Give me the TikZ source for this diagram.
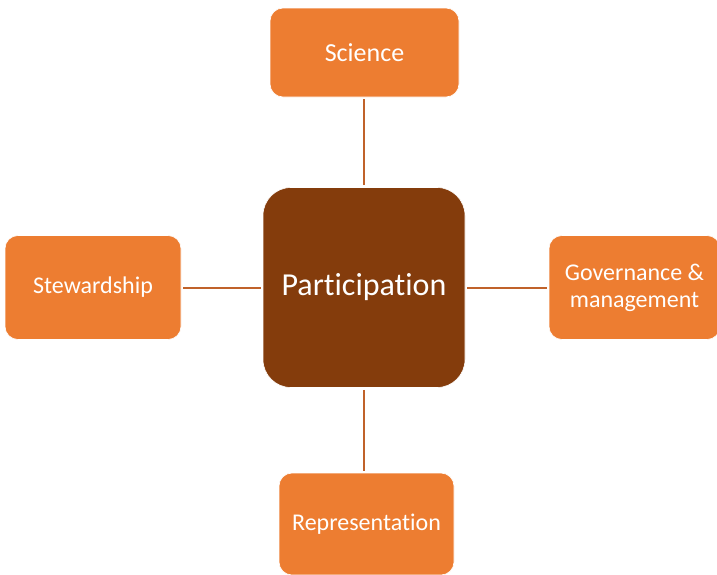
\documentclass[tikz,border=0pt]{standalone}
\usepackage{fontspec}
\setmainfont[Ligatures=NoCommon]{Carlito}
\definecolor{orangebox}{HTML}{ED7D31}
\definecolor{brownbox}{HTML}{843C0C}
\definecolor{linkcol}{HTML}{C0622A}
\begin{document}
\begin{tikzpicture}[x=1pt,y=-1pt,
  leaf/.style={draw=white,line width=0.6pt,fill=orangebox,rounded corners=13pt,inner sep=0pt,
    text=white,align=center,font=\fontsize{24}{27}\selectfont},
  hub/.style={draw=white,line width=0.6pt,fill=brownbox,rounded corners=28pt,inner sep=0pt,
    text=white,align=center,font=\fontsize{32}{38}\selectfont,minimum width=202pt,minimum height=200pt},
  link/.style={draw=linkcol,line width=2pt,shorten <=2pt,shorten >=2pt}]
\useasboundingbox (0,0) rectangle (717,574);
\node[hub] (P) at (364,287.5) {Participation};
\node[leaf,minimum width=189pt,minimum height=89pt,font=\fontsize{26}{29}\selectfont] (S) at (364.5,52.5) {Science};
\node[leaf,minimum width=176pt,minimum height=104pt] (W) at (93,287.5) {Stewardship};
\node[leaf,minimum width=171pt,minimum height=104pt] (G) at (634.5,287.5) {Governance \&\\management};
\node[leaf,minimum width=175pt,minimum height=102pt] (R) at (366.5,524) {Representation};
\draw[link] (P.north) -- (P.north |- S.south);
\draw[link] (P.west) -- (P.west -| W.east);
\draw[link] (P.east) -- (P.east -| G.west);
\draw[link] (P.south) -- (P.south |- R.north);
\end{tikzpicture}
\end{document}
